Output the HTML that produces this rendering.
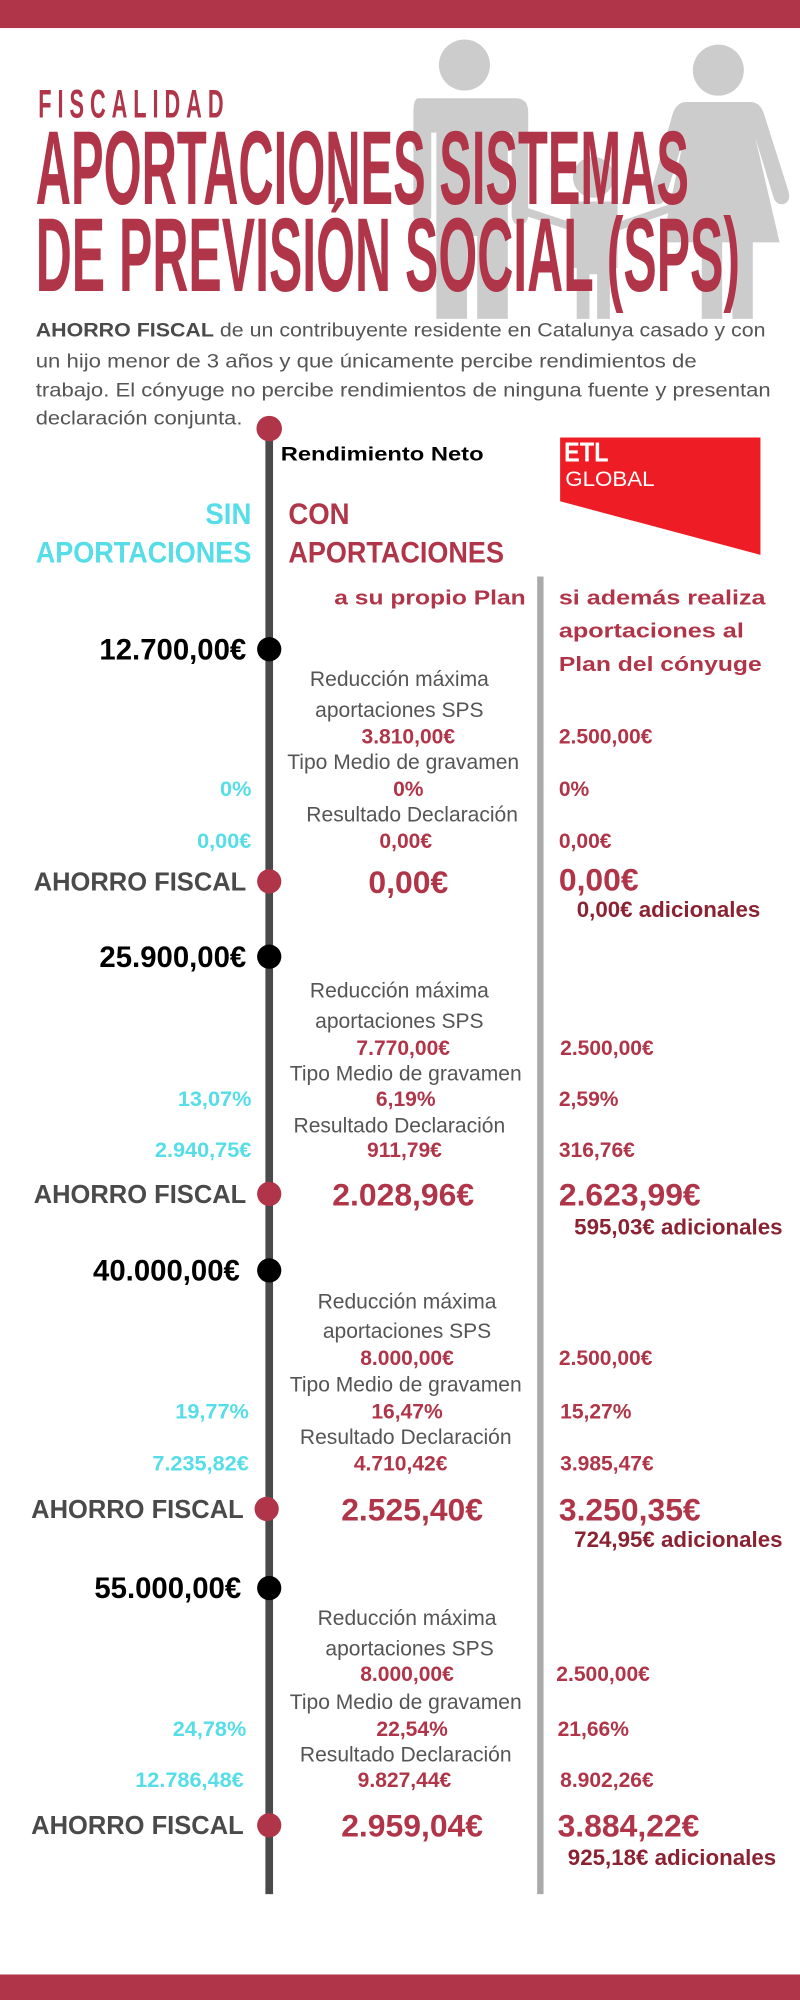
<!DOCTYPE html>
<html><head><meta charset="utf-8"><style>
html,body{margin:0;padding:0;background:#fff;}
svg{display:block;}
text{font-family:"Liberation Sans",sans-serif;}
.cn{font-family:"Liberation Sans Narrow","Liberation Sans",sans-serif;font-weight:bold;}
.lab{font-size:16.5px;fill:#555;text-anchor:middle;}
.val{font-size:16.5px;fill:#b03548;}
.cy{font-size:17px;fill:#55dde8;text-anchor:end;}
.big{font-size:25px;fill:#b03548;}
.adi{font-size:17.5px;fill:#8b2232;}
.dl{font-size:23px;fill:#000;text-anchor:end;font-weight:bold;}
.ah{font-size:20px;fill:#4a4a4a;text-anchor:end;font-weight:bold;}
</style></head><body>
<svg width="800" height="2000" viewBox="0 0 627 1568" preserveAspectRatio="none" xmlns="http://www.w3.org/2000/svg">
<rect x="0" y="0" width="627" height="22" fill="#b03548"/>
<rect x="0" y="1548" width="627" height="20" fill="#b03548"/>
<g fill="#cccccc">
<circle cx="364" cy="51" r="20"/>
<path d="M328 77 H404 Q414 77 414 88 V168 Q414 176 407 176 Q401 176 401 168 V104 H398 V250 H374 V185 H366 V250 H342 V104 H338 V168 Q338 176 331 176 Q324 176 324 168 V88 Q324 77 328 77Z"/>
<path d="M410 162 L450 175 L448 181 L408 168Z"/>
<circle cx="465" cy="139" r="16"/>
<path d="M447 158 H484 V210 H478 V250 H468 V215 H462 V250 H452 V210 H447Z"/>
<path d="M482 175 L525 160 L527 166 L484 181Z"/>
<circle cx="563" cy="55" r="20"/>
<path d="M538 80 H588 Q596 80 599 90 L618 150 Q620 158 614 160 Q608 161 606 154 L592 108 L611 190 H590 V250 H574 V190 H566 V250 H550 V190 H519 L536 108 L522 154 Q520 161 514 160 Q508 158 510 150 L527 90 Q530 80 538 80Z"/>
</g>
<text transform="translate(30,92) scale(0.55,1)" x="0" y="0" font-size="31" font-weight="bold" fill="#b03548" textLength="264" lengthAdjust="spacing">FISCALIDAD</text>
<text x="28" y="160" font-size="82" font-weight="bold" fill="#b03548" textLength="512" lengthAdjust="spacingAndGlyphs">APORTACIONES SISTEMAS</text>
<text x="28" y="228" font-size="82" font-weight="bold" fill="#b03548" textLength="552" lengthAdjust="spacingAndGlyphs">DE PREVISIÓN SOCIAL (SPS)</text>
<g font-size="15.5" fill="#555">
<text x="28" y="264" textLength="572" lengthAdjust="spacingAndGlyphs"><tspan font-weight="bold" fill="#4a4a4a">AHORRO FISCAL</tspan> de un contribuyente residente en Catalunya casado y con</text>
<text x="28" y="288" textLength="518" lengthAdjust="spacingAndGlyphs">un hijo menor de 3 años y que únicamente percibe rendimientos de</text>
<text x="28" y="311" textLength="576" lengthAdjust="spacingAndGlyphs">trabajo. El cónyuge no percibe rendimientos de ninguna fuente y presentan</text>
<text x="28" y="333" textLength="162" lengthAdjust="spacingAndGlyphs">declaración conjunta.</text>
</g>
<rect x="208" y="335" width="6" height="1150" fill="#4a4a4a"/>
<rect x="421" y="452" width="5" height="1033" fill="#aaaaaa"/>
<circle cx="211" cy="336" r="10" fill="#b03548"/>
<text x="220" y="361" font-size="15" font-weight="bold" fill="#000" textLength="159" lengthAdjust="spacingAndGlyphs">Rendimiento Neto</text>
<path d="M439 343 H596 V435 L439 393Z" fill="#ee1c25"/>
<text x="442" y="362" font-size="22" font-weight="bold" fill="#fff" textLength="35" lengthAdjust="spacingAndGlyphs">ETL</text>
<text x="443" y="381" font-size="17" fill="#fff" textLength="70" lengthAdjust="spacingAndGlyphs">GLOBAL</text>
<g font-size="23" font-weight="bold">
<text x="161" y="411" fill="#55dde8" textLength="36" lengthAdjust="spacingAndGlyphs">SIN</text>
<text x="28" y="441" fill="#55dde8" textLength="169" lengthAdjust="spacingAndGlyphs">APORTACIONES</text>
<text x="226" y="411" fill="#b03548" textLength="48" lengthAdjust="spacingAndGlyphs">CON</text>
<text x="226" y="441" fill="#b03548" textLength="169" lengthAdjust="spacingAndGlyphs">APORTACIONES</text>
</g>
<g font-size="16" font-weight="bold" fill="#b03548">
<text x="262" y="474" textLength="150" lengthAdjust="spacingAndGlyphs">a su propio Plan</text>
<text x="438" y="474" textLength="162" lengthAdjust="spacingAndGlyphs">si además realiza</text>
<text x="438" y="500" textLength="145" lengthAdjust="spacingAndGlyphs">aportaciones al</text>
<text x="438" y="526" textLength="159" lengthAdjust="spacingAndGlyphs">Plan del cónyuge</text>
</g>

<circle cx="211" cy="509" r="9.5" fill="#000"/>
<text class="dl" x="193" y="517">12.700,00€</text>
<text class="lab" x="313" y="538">Reducción máxima</text>
<text class="lab" x="313" y="562">aportaciones SPS</text>
<text class="val cn" x="320" y="583" text-anchor="middle">3.810,00€</text>
<text class="val cn" x="438" y="583">2.500,00€</text>
<text class="lab" x="316" y="603">Tipo Medio de gravamen</text>
<text class="cy cn" x="197" y="624">0%</text>
<text class="val cn" x="320" y="624" text-anchor="middle">0%</text>
<text class="val cn" x="438" y="624">0%</text>
<text class="lab" x="323" y="644">Resultado Declaración</text>
<text class="cy cn" x="197" y="665">0,00€</text>
<text class="val cn" x="318" y="665" text-anchor="middle">0,00€</text>
<text class="val cn" x="438" y="665">0,00€</text>
<circle cx="211" cy="691" r="9.5" fill="#b03548"/>
<text class="ah" x="193" y="698">AHORRO FISCAL</text>
<text class="big cn" x="320" y="700" text-anchor="middle">0,00€</text>
<text class="big cn" x="438" y="698">0,00€</text>
<text class="adi cn" x="452" y="719">0,00€ adicionales</text>

<circle cx="211" cy="750" r="9.5" fill="#000"/>
<text class="dl" x="193" y="758">25.900,00€</text>
<text class="lab" x="313" y="782">Reducción máxima</text>
<text class="lab" x="313" y="806">aportaciones SPS</text>
<text class="val cn" x="316" y="827" text-anchor="middle">7.770,00€</text>
<text class="val cn" x="439" y="827" fill="#8b2232">2.500,00€</text>
<text class="lab" x="318" y="847">Tipo Medio de gravamen</text>
<text class="cy cn" x="197" y="867">13,07%</text>
<text class="val cn" x="318" y="867" text-anchor="middle">6,19%</text>
<text class="val cn" x="438" y="867">2,59%</text>
<text class="lab" x="313" y="888">Resultado Declaración</text>
<text class="cy cn" x="197" y="907">2.940,75€</text>
<text class="val cn" x="317" y="907" text-anchor="middle">911,79€</text>
<text class="val cn" x="438" y="907">316,76€</text>
<circle cx="211" cy="936" r="9.5" fill="#b03548"/>
<text class="ah" x="193" y="943">AHORRO FISCAL</text>
<text class="big cn" x="316" y="945" text-anchor="middle">2.028,96€</text>
<text class="big cn" x="438" y="945">2.623,99€</text>
<text class="adi cn" x="450" y="968">595,03€ adicionales</text>

<circle cx="211" cy="996" r="9.5" fill="#000"/>
<text class="dl" x="188" y="1004">40.000,00€</text>
<text class="lab" x="319" y="1026">Reducción máxima</text>
<text class="lab" x="319" y="1049">aportaciones SPS</text>
<text class="val cn" x="319" y="1070" text-anchor="middle">8.000,00€</text>
<text class="val cn" x="438" y="1070">2.500,00€</text>
<text class="lab" x="318" y="1091">Tipo Medio de gravamen</text>
<text class="cy cn" x="195" y="1112">19,77%</text>
<text class="val cn" x="319" y="1112" text-anchor="middle">16,47%</text>
<text class="val cn" x="439" y="1112">15,27%</text>
<text class="lab" x="318" y="1132">Resultado Declaración</text>
<text class="cy cn" x="195" y="1153">7.235,82€</text>
<text class="val cn" x="314" y="1153" text-anchor="middle">4.710,42€</text>
<text class="val cn" x="439" y="1153">3.985,47€</text>
<circle cx="209" cy="1183" r="9.5" fill="#b03548"/>
<text class="ah" x="191" y="1190">AHORRO FISCAL</text>
<text class="big cn" x="323" y="1192" text-anchor="middle">2.525,40€</text>
<text class="big cn" x="438" y="1192">3.250,35€</text>
<text class="adi cn" x="450" y="1213">724,95€ adicionales</text>

<circle cx="211" cy="1245" r="9.5" fill="#000"/>
<text class="dl" x="189" y="1253">55.000,00€</text>
<text class="lab" x="319" y="1274">Reducción máxima</text>
<text class="lab" x="321" y="1298">aportaciones SPS</text>
<text class="val cn" x="319" y="1318" text-anchor="middle">8.000,00€</text>
<text class="val cn" x="436" y="1318">2.500,00€</text>
<text class="lab" x="318" y="1340">Tipo Medio de gravamen</text>
<text class="cy cn" x="193" y="1361">24,78%</text>
<text class="val cn" x="323" y="1361" text-anchor="middle">22,54%</text>
<text class="val cn" x="437" y="1361">21,66%</text>
<text class="lab" x="318" y="1381">Resultado Declaración</text>
<text class="cy cn" x="191" y="1401">12.786,48€</text>
<text class="val cn" x="317" y="1401" text-anchor="middle">9.827,44€</text>
<text class="val cn" x="439" y="1401">8.902,26€</text>
<circle cx="211" cy="1431" r="9.5" fill="#b03548"/>
<text class="ah" x="191" y="1438">AHORRO FISCAL</text>
<text class="big cn" x="323" y="1440" text-anchor="middle">2.959,04€</text>
<text class="big cn" x="437" y="1440">3.884,22€</text>
<text class="adi cn" x="445" y="1462">925,18€ adicionales</text>
</svg>
</body></html>
